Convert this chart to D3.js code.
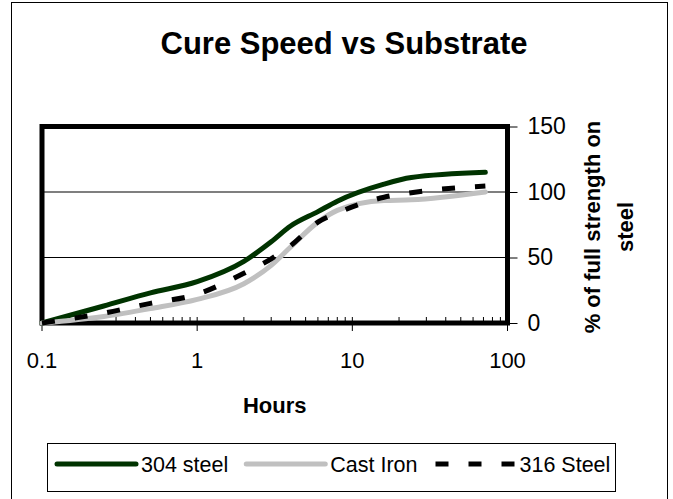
<!DOCTYPE html>
<html>
<head>
<meta charset="utf-8">
<script src="https://d3js.org/d3.v7.min.js"></script>
<style>
  html, body { margin: 0; padding: 0; background: #fff; }
  svg { display: block; font-family: Arial, "Liberation Sans", sans-serif; }
</style>
</head>
<body>
<div id="chart"></div>
<script>
// Data
const hours = [0.1, 0.25, 0.5, 1, 2, 3, 4, 6, 8, 16, 24, 72];
const steel304 = [0, 13, 23, 31.5, 47, 62, 74, 85, 93, 106, 111, 115];
const castIron = [0, 5, 11, 18, 30, 44, 58, 77, 86, 93.5, 94, 100];
const steel316 = [0, 7.5, 15, 22, 38, 49, 59, 77, 84, 96, 99.5, 104.5];
const seriesNames = ['304 steel', 'Cast Iron', '316 Steel'];
const xTickValues = [0.1, 1, 10, 100];
const yTickValues = [0, 50, 100, 150];
const gridValues = [50, 100];
const chartTitle = 'Cure Speed vs Substrate';
const xTitle = 'Hours';
const yTitleLines = ['% of full strength on', 'steel'];

const width = 673, height = 499;
const margin = { left: 42, right: 165.5, top: 126.5, bottom: 176 };
const plotRight = width - margin.right;
const plotBottom = height - margin.bottom;

const svg = d3.select('#chart').append('svg')
  .attr('width', width)
  .attr('height', height);

// outer chart frame (bottom edge runs off the picture)
svg.append('rect')
  .attr('x', 11.5).attr('y', 2.5)
  .attr('width', 656).attr('height', 510)
  .attr('fill', '#fff').attr('stroke', '#000').attr('stroke-width', 1);

const x = d3.scaleLog().domain([0.1, 100]).range([margin.left, plotRight]);
const y = d3.scaleLinear().domain([0, 150]).range([plotBottom, margin.top]);

// title
svg.append('text')
  .attr('x', 344).attr('y', 54)
  .attr('text-anchor', 'middle')
  .attr('font-size', 31).attr('font-weight', 'bold')
  .text(chartTitle);

// gridlines
svg.append('g').selectAll('line')
  .data(gridValues)
  .join('line')
  .attr('x1', margin.left).attr('x2', plotRight)
  .attr('y1', d => y(d)).attr('y2', d => y(d))
  .attr('stroke', '#000').attr('stroke-width', 1.2);

// plot area border
svg.append('rect')
  .attr('x', margin.left).attr('y', margin.top)
  .attr('width', plotRight - margin.left)
  .attr('height', plotBottom - margin.top)
  .attr('fill', 'none').attr('stroke', '#000').attr('stroke-width', 5);

// x axis: minor ticks inside, major ticks cross the axis
const minorTicks = x.ticks().filter(d => !xTickValues.some(v => Math.abs(v - d) < 1e-9));
svg.append('g').selectAll('line')
  .data(minorTicks)
  .join('line')
  .attr('x1', d => x(d)).attr('x2', d => x(d))
  .attr('y1', plotBottom).attr('y2', plotBottom - 6)
  .attr('stroke', '#000').attr('stroke-width', 1);

svg.append('g').selectAll('line')
  .data(xTickValues)
  .join('line')
  .attr('x1', d => x(d)).attr('x2', d => x(d))
  .attr('y1', plotBottom - 6).attr('y2', plotBottom + 8)
  .attr('stroke', '#000').attr('stroke-width', 1);

svg.append('g').selectAll('text')
  .data(xTickValues)
  .join('text')
  .attr('x', d => x(d)).attr('y', 368)
  .attr('text-anchor', 'middle')
  .attr('font-size', 22)
  .text(d => String(d));

svg.append('text')
  .attr('x', (margin.left + plotRight) / 2).attr('y', 413)
  .attr('text-anchor', 'middle')
  .attr('font-size', 22).attr('font-weight', 'bold')
  .text(xTitle);

// right y axis
const yAxis = svg.append('g')
  .attr('transform', `translate(${plotRight}, 0)`)
  .call(d3.axisRight(y).tickValues(yTickValues).tickSize(10).tickPadding(10));
yAxis.select('.domain').remove();
yAxis.selectAll('line').attr('stroke', '#000');
yAxis.selectAll('text')
  .attr('font-size', 23)
  .attr('font-family', 'Arial, "Liberation Sans", sans-serif')
  .attr('fill', '#000');

svg.append('g').selectAll('text')
  .data(yTitleLines)
  .join('text')
  .attr('transform', (d, i) => `translate(${600 + i * 33}, 227) rotate(-90)`)
  .attr('text-anchor', 'middle')
  .attr('font-size', 22).attr('font-weight', 'bold')
  .text(d => d);

// series
const series = [
  { name: seriesNames[0], values: steel304, color: '#003300', dash: null },
  { name: seriesNames[1], values: castIron, color: '#c0c0c0', dash: null },
  { name: seriesNames[2], values: steel316, color: '#000', dash: '13 20' }
];

const line = d3.line()
  .x(d => x(d[0]))
  .y(d => y(d[1]))
  .curve(d3.curveMonotoneX);

series.forEach(s => {
  svg.append('path')
    .datum(hours.map((h, i) => [h, s.values[i]]))
    .attr('fill', 'none')
    .attr('stroke', s.color)
    .attr('stroke-width', 5)
    .attr('stroke-linecap', s.dash ? 'butt' : 'round')
    .attr('stroke-linejoin', 'round')
    .attr('stroke-dasharray', s.dash)
    .attr('d', line);
});

// legend
const legend = svg.append('g');
legend.append('rect')
  .attr('x', 47.5).attr('y', 443.5)
  .attr('width', 568).attr('height', 48)
  .attr('fill', '#fff').attr('stroke', '#000').attr('stroke-width', 1);

let lx = 57;
const ly = 464;
series.forEach(s => {
  legend.append('line')
    .attr('x1', lx).attr('x2', lx + 79)
    .attr('y1', ly).attr('y2', ly)
    .attr('stroke', s.color).attr('stroke-width', 5)
    .attr('stroke-linecap', s.dash ? 'butt' : 'round')
    .attr('stroke-dasharray', s.dash);
  const t = legend.append('text')
    .attr('x', lx + 84).attr('y', ly + 7.5)
    .attr('font-size', 21.5)
    .text(s.name);
  lx += 84 + t.node().getComputedTextLength() + 18;
});
</script>
</body>
</html>
